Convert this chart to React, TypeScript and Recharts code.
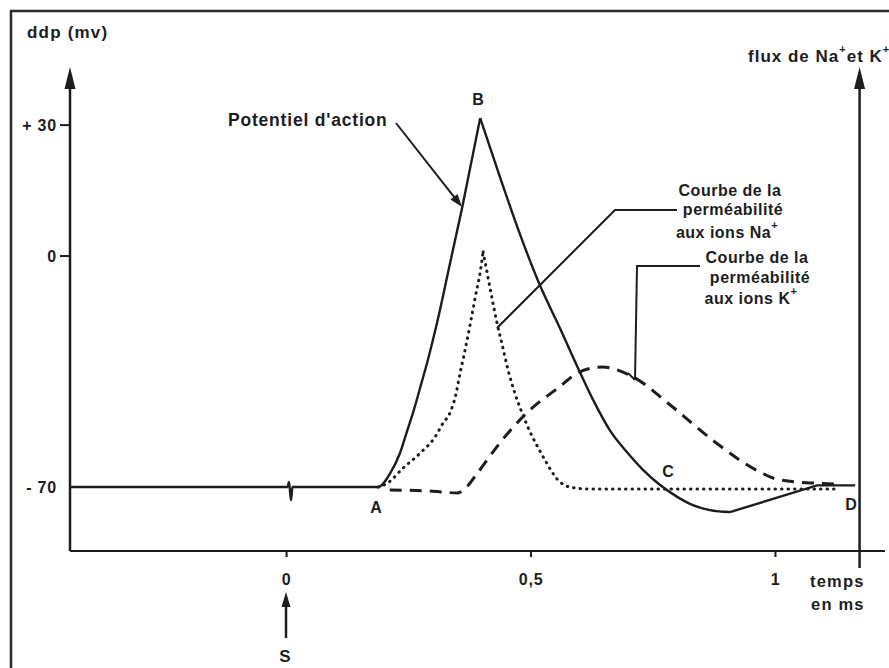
import { LineChart, Line, XAxis, YAxis, ReferenceLine } from 'recharts'

const INK = '#1d1d1d'
const FONT = '"Liberation Sans", Arial, Helvetica, sans-serif'

// axe du temps (ms)
const T_MIN = -0.443
const T_MAX = 1.224
const T_AXE_FLUX = 1.172
const ticksTemps = [0, 0.5, 1]
const etiquettesTemps = ['0', '0,5', '1']

// ddp (mV) : sur le schéma, la graduation est plus étirée au-dessus de 0
const ticksDdp = [-70, 0, 30]
const etiquettesDdp = ['- 70', '0', '+ 30']
const ETIREMENT_POSITIF = 1.323
const DDP_BAS = -89.4
const DDP_HAUT = 57.3
const yDdp = (mv: number) => (mv > 0 ? mv * ETIREMENT_POSITIF : mv)

// flux (unités arbitraires, axe de droite)
const FLUX_MAX = 100

// potentiel d'action : ligne de base, artefact de stimulation, montée jusqu'à B
const tPAMontee = [-0.443, 0.002, 0.005, 0.009, 0.012, 0.187, 0.212, 0.232, 0.246, 0.259, 0.277, 0.289, 0.31, 0.334, 0.359, 0.396]
const ddpPAMontee = [-70, -70, -68.5, -74, -70, -70, -65.8, -59.7, -53.3, -47.3, -37.9, -31.5, -18.8, -2.4, 11.0, 31.6]
// descente jusqu'à l'hyperpolarisation
const tPADescente = [0.396, 0.437, 0.478, 0.518, 0.559, 0.596, 0.627, 0.662, 0.696, 0.729, 0.764, 0.799, 0.831, 0.866, 0.907]
const ddpPADescente = [31.6, 17.9, 4.8, -8.8, -21.8, -33.9, -43.6, -53.0, -59.4, -64.8, -69.4, -73.0, -75.5, -77.0, -77.6]
// retour au potentiel de repos (D)
const tPARetour = [0.907, 1.085, 1.163]
const ddpPARetour = [-77.6, -69.5, -69.5]

// perméabilité aux ions Na+
const tNaMontee = [0.187, 0.206, 0.238, 0.273, 0.304, 0.32, 0.334, 0.345, 0.355, 0.365, 0.376, 0.386, 0.396, 0.402]
const fluxNaMontee = [13.2, 14.0, 17.1, 20.2, 23.6, 26.4, 28.5, 31.8, 36.8, 41.5, 47.1, 52.5, 57.6, 61.8]
const tNaDescente = [0.402, 0.41, 0.42, 0.43, 0.441, 0.453, 0.467, 0.481, 0.498, 0.518, 0.533, 0.553, 0.58, 0.62, 1.126]
const fluxNaDescente = [61.8, 57.6, 52.3, 47.3, 42.6, 37.4, 32.6, 28.7, 24.6, 20.7, 18.0, 14.9, 13.2, 12.8, 12.8]

// perméabilité aux ions K+
const tK = [0.211, 0.292, 0.35, 0.366, 0.389, 0.436, 0.491, 0.558, 0.599, 0.646, 0.708, 0.789, 0.879, 0.961, 1.008, 1.084, 1.131]
const fluxK = [12.6, 12.4, 12.0, 13.0, 15.9, 22.3, 28.5, 33.9, 37.0, 38.0, 36.0, 29.8, 22.3, 16.7, 14.7, 14.0, 13.8]

const serie = (ts: number[], vs: number[], f = (v: number) => v) =>
  ts.map((t, i) => ({ t, v: f(vs[i]) }))

const paMontee = serie(tPAMontee, ddpPAMontee, yDdp)
const paDescente = serie(tPADescente, ddpPADescente, yDdp)
const paRetour = serie(tPARetour, ddpPARetour, yDdp)
const naMontee = serie(tNaMontee, fluxNaMontee)
const naDescente = serie(tNaDescente, fluxNaDescente)
const kSerie = serie(tK, fluxK)

const txt = (size: number, ls = 0) => ({
  fill: INK,
  fontFamily: FONT,
  fontWeight: 700,
  fontSize: size,
  letterSpacing: ls,
})

function pointe(x1: number, y1: number, x2: number, y2: number, L: number, W: number) {
  const a = Math.atan2(y2 - y1, x2 - x1)
  const bx = x2 - L * Math.cos(a)
  const by = y2 - L * Math.sin(a)
  const px = (W / 2) * Math.sin(a)
  const py = -(W / 2) * Math.cos(a)
  return {
    bx: bx + 2 * Math.cos(a),
    by: by + 2 * Math.sin(a),
    points: `${x2},${y2} ${bx + px},${by + py} ${bx - px},${by - py}`,
  }
}

const Fleche = ({ x1, y1, x2, y2, L = 20, W = 11, sw = 2.5 }: any) => {
  const p = pointe(x1, y1, x2, y2, L, W)
  return (
    <g>
      <line x1={x1} y1={y1} x2={p.bx} y2={p.by} stroke={INK} strokeWidth={sw} />
      <polygon points={p.points} fill={INK} />
    </g>
  )
}

const flecheAxe = (props: any) => (
  <Fleche x1={props.x1} y1={props.y1} x2={props.x2} y2={props.y2} L={22} W={11} sw={2.5} />
)

const TickTemps = (props: any) => {
  const { x, y, payload } = props
  const i = ticksTemps.indexOf(payload.value)
  return (
    <text x={x} y={y} dy={12} textAnchor="middle" {...txt(16, 0.8)}>
      {etiquettesTemps[i]}
    </text>
  )
}

const TickDdp = (props: any) => {
  const { x, y, payload } = props
  const i = ticksDdp.findIndex((v) => Math.abs(yDdp(v) - payload.value) < 1e-6)
  return (
    <g>
      <text x={x} y={y} dy={6} textAnchor="end" {...txt(16, 0.8)}>
        {etiquettesDdp[i]}
      </text>
      {ticksDdp[i] !== -70 && (
        <line x1={x + 3} y1={y} x2={x + 13} y2={y} stroke={INK} strokeWidth={2} />
      )}
    </g>
  )
}

const trait = { stroke: INK, dot: false, activeDot: false, isAnimationActive: false } as const

export default function App() {
  return (
    <div
      style={{
        position: 'absolute',
        left: 0,
        top: 0,
        width: 889,
        height: 668,
        background: '#fff',
        overflow: 'hidden',
      }}
    >
      <LineChart width={889} height={668} margin={{ top: 67, right: 4, bottom: 77, left: 10 }}>
        <XAxis
          type="number"
          dataKey="t"
          domain={[T_MIN, T_MAX]}
          ticks={ticksTemps}
          interval={0}
          allowDataOverflow
          height={40}
          tickSize={6}
          tickMargin={16}
          axisLine={{ stroke: INK, strokeWidth: 2 }}
          tickLine={{ stroke: INK, strokeWidth: 2 }}
          tick={<TickTemps />}
        />
        <YAxis
          yAxisId="ddp"
          type="number"
          domain={[DDP_BAS, DDP_HAUT]}
          ticks={ticksDdp.map(yDdp)}
          interval={0}
          allowDataOverflow
          width={60}
          axisLine={false}
          tickLine={false}
          tickSize={10}
          tickMargin={3}
          tick={<TickDdp />}
        />
        <YAxis yAxisId="flux" orientation="right" type="number" domain={[0, FLUX_MAX]} allowDataOverflow hide />

        <ReferenceLine
          yAxisId="ddp"
          segment={[
            { x: T_MIN, y: DDP_BAS },
            { x: T_MIN, y: DDP_HAUT },
          ]}
          ifOverflow="visible"
          shape={flecheAxe}
        />
        <ReferenceLine
          yAxisId="flux"
          segment={[
            { x: T_AXE_FLUX, y: -3.5 },
            { x: T_AXE_FLUX, y: FLUX_MAX },
          ]}
          ifOverflow="visible"
          shape={flecheAxe}
        />

        <Line {...trait} yAxisId="flux" data={kSerie} dataKey="v" type="monotone" strokeWidth={3} strokeDasharray="12 8" />
        <Line
          {...trait}
          yAxisId="flux"
          data={naMontee}
          dataKey="v"
          type="monotone"
          strokeWidth={3}
          strokeDasharray="0.5 6"
          strokeLinecap="round"
        />
        <Line
          {...trait}
          yAxisId="flux"
          data={naDescente}
          dataKey="v"
          type="monotone"
          strokeWidth={3}
          strokeDasharray="0.5 6"
          strokeLinecap="round"
        />
        <Line {...trait} yAxisId="ddp" data={paMontee} dataKey="v" type="monotone" strokeWidth={2.4} />
        <Line {...trait} yAxisId="ddp" data={paDescente} dataKey="v" type="monotone" strokeWidth={2.4} />
        <Line {...trait} yAxisId="ddp" data={paRetour} dataKey="v" type="linear" strokeWidth={2.4} />
      </LineChart>

      <svg
        width={889}
        height={668}
        style={{ position: 'absolute', left: 0, top: 0, pointerEvents: 'none' }}
      >
        <path d="M11 668 V11 H889" fill="none" stroke="#2b2b2b" strokeWidth={2.5} />

        <text x={27} y={38} {...txt(17, 1.2)}>ddp (mv)</text>
        <text x={748} y={62} {...txt(17, 1)}>
          flux de Na
          <tspan dy={-9} fontSize={11}>+</tspan>
          <tspan dy={9}>et K</tspan>
          <tspan dy={-9} fontSize={11}>+</tspan>
        </text>

        <text x={228} y={126} {...txt(17.5, 0.8)}>Potentiel d'action</text>
        <Fleche x1={396} y1={123} x2={462} y2={207} L={13} W={9} sw={2} />

        <text x={478} y={105} textAnchor="middle" {...txt(16)}>B</text>
        <text x={376} y={513} textAnchor="middle" {...txt(16)}>A</text>
        <text x={668} y={477} textAnchor="middle" {...txt(16)}>C</text>
        <text x={851} y={510} textAnchor="middle" {...txt(16)}>D</text>

        <g textAnchor="middle">
          <text x={730} y={196} {...txt(16, 0.5)}>Courbe de la</text>
          <text x={733} y={215} {...txt(16, 0.5)}>perméabilité</text>
          <text x={727} y={238} {...txt(16, 0.5)}>
            aux ions Na<tspan dy={-9} fontSize={11}>+</tspan>
          </text>
          <text x={757} y={263} {...txt(16, 0.5)}>Courbe de la</text>
          <text x={760} y={283} {...txt(16, 0.5)}>perméabilité</text>
          <text x={751} y={304} {...txt(16, 0.5)}>
            aux ions K<tspan dy={-9} fontSize={11}>+</tspan>
          </text>
        </g>
        <polyline points="677,210 615,210 497,328" fill="none" stroke={INK} strokeWidth={2} />
        <polyline points="700,266 637,266 635,380" fill="none" stroke={INK} strokeWidth={2} />
        <line x1={628} y1={373} x2={635} y2={380} stroke={INK} strokeWidth={2} />

        <text x={810} y={587} {...txt(16.5, 1.2)}>temps</text>
        <text x={811} y={610} {...txt(16.5, 1.2)}>en ms</text>

        <Fleche x1={286} y1={638} x2={286} y2={592} L={15} W={9} sw={2.5} />
        <text x={285} y={662} textAnchor="middle" {...txt(17)}>S</text>
      </svg>
    </div>
  )
}
